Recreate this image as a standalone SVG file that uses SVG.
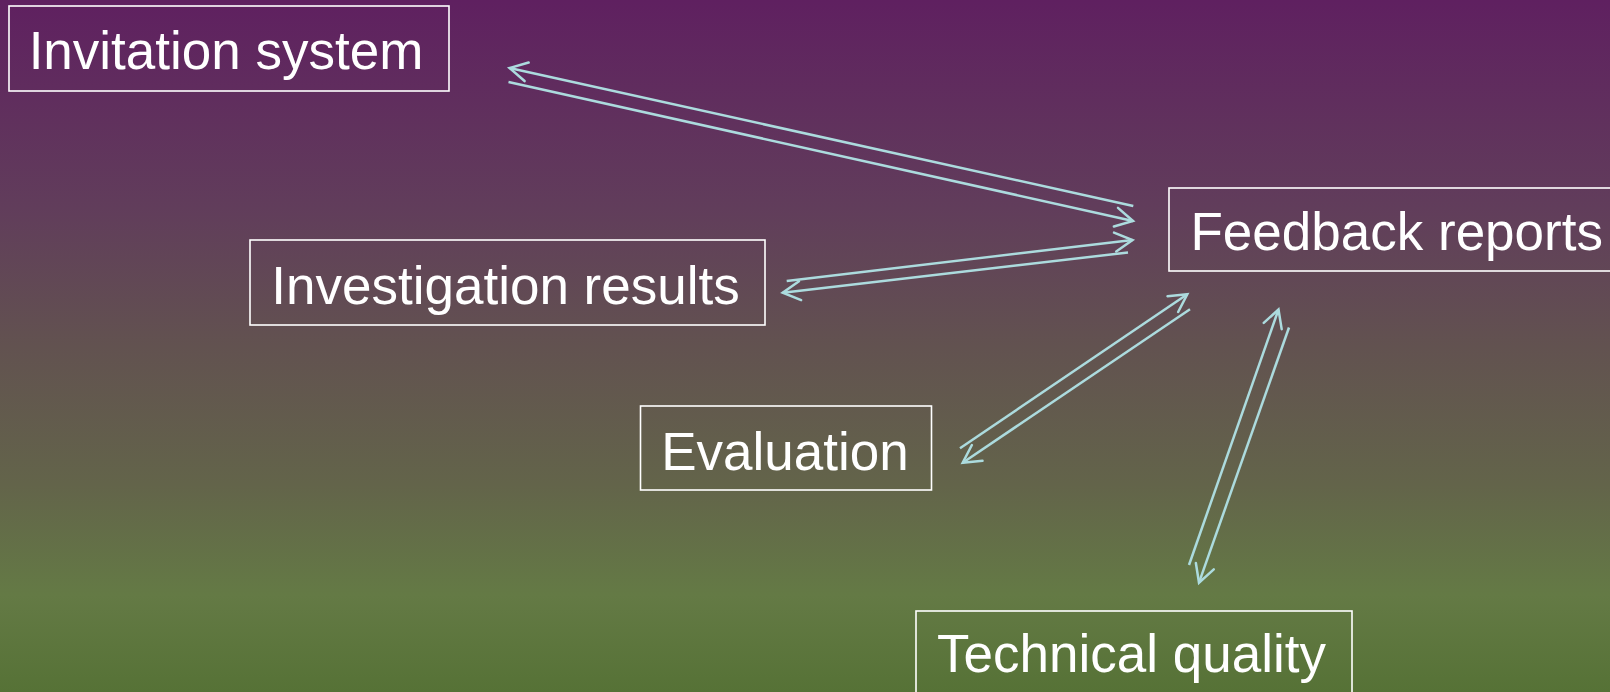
<svg xmlns="http://www.w3.org/2000/svg" width="1610" height="692" viewBox="0 0 1610 692">
<defs>
<linearGradient id="bg" x1="0" y1="0" x2="0" y2="1">
<stop offset="0" stop-color="#5f2060"/>
<stop offset="0.3" stop-color="#613d5b"/>
<stop offset="0.5" stop-color="#625250"/>
<stop offset="0.7" stop-color="#63644a"/>
<stop offset="0.86" stop-color="#647a45"/>
<stop offset="1" stop-color="#567236"/>
</linearGradient>
<marker id="ah" markerUnits="userSpaceOnUse" markerWidth="30" markerHeight="30" viewBox="-25 -15 30 30" refX="0" refY="0" orient="auto" overflow="visible">
<path d="M -17.5 -9.5 L 0 0 L -17.5 9.5" fill="none" stroke="#acdbde" stroke-width="2.5" stroke-linecap="round" stroke-linejoin="miter"/>
</marker>
<style>
.box{fill:none;stroke:#ffffff;stroke-width:1.6}
.lbl{font-family:"Liberation Sans",Arial,sans-serif;font-size:53px;fill:#ffffff}
.c{text-anchor:middle}
.ln{fill:none;stroke:#acdbde;stroke-width:2.5;marker-end:url(#ah)}
</style>
</defs>
<rect x="0" y="0" width="1610" height="692" fill="url(#bg)"/>
<g id="connectors">
<line class="ln" x1="1133.3" y1="206" x2="509.5" y2="68"/>
<line class="ln" x1="508.5" y1="82" x2="1133" y2="221"/>
<line class="ln" x1="786.7" y1="281" x2="1132.5" y2="240"/>
<line class="ln" x1="1128" y1="252.5" x2="782.7" y2="292.7"/>
<line class="ln" x1="960" y1="448.3" x2="1187.3" y2="294.3"/>
<line class="ln" x1="1190" y1="309.3" x2="962.7" y2="462.7"/>
<line class="ln" x1="1189" y1="565" x2="1278.5" y2="309.5"/>
<line class="ln" x1="1289" y1="327.5" x2="1199" y2="582.7"/>
</g>
<g id="invitation">
<rect class="box" x="9" y="6" width="440" height="85"/>
<text class="lbl c" x="226" y="69">Invitation system</text>
</g>
<g id="feedback">
<rect class="box" x="1169" y="188" width="460" height="83"/>
<text class="lbl" x="1190.5" y="250">Feedback reports</text>
</g>
<g id="investigation">
<rect class="box" x="250" y="240" width="515" height="85"/>
<text class="lbl c" x="505.5" y="304">Investigation results</text>
</g>
<g id="evaluation">
<rect class="box" x="640.5" y="406" width="291" height="84"/>
<text class="lbl c" x="785" y="470">Evaluation</text>
</g>
<g id="technical">
<rect class="box" x="916" y="611" width="436" height="90"/>
<text class="lbl c" x="1131.5" y="672">Technical quality</text>
</g>
</svg>
